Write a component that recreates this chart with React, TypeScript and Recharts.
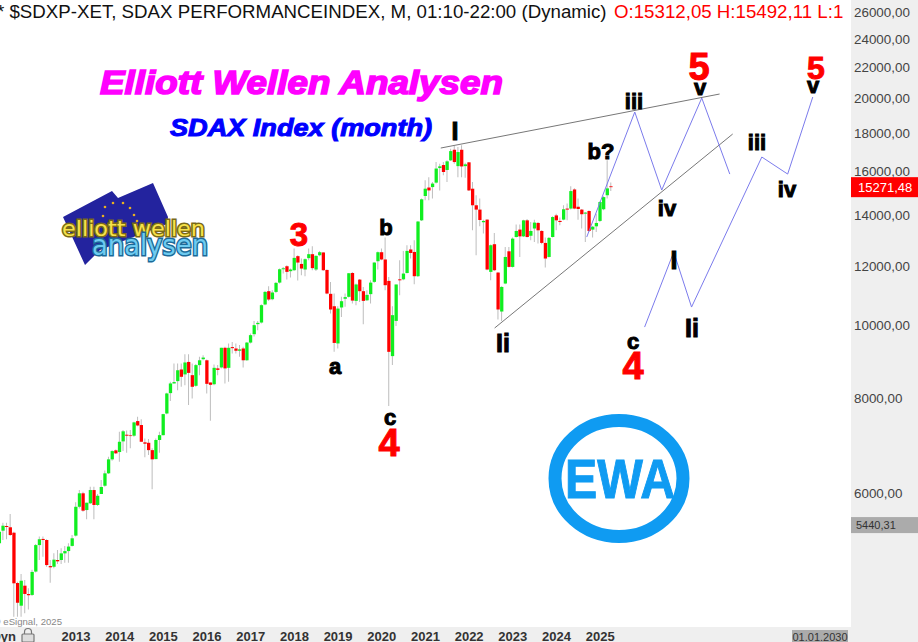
// App.tsx - SDAX monthly candles with Elliott wave projection
import React from 'react';
import { ComposedChart, Bar, Line, XAxis, YAxis, Cell } from 'recharts';

// month index: 0 is Jan 2013, first candle is Apr 2011
const firstMonth = -21;

const opens = [
  5145, 5348, 5425, 5404, 5315, 4558, 4253, 4521, 4408,
  4395, 4720, 5118, 5215, 5198, 4800, 4790, 4890, 4890, 4990, 5025, 5105,
  5268, 5753, 5995, 5696, 5815, 6055, 5785, 5982, 6135, 6372, 6650, 6835,
  6800, 7025, 7170, 7155, 7148, 7475, 7385, 7005, 6995, 6840, 6655, 7055,
  7160, 7650, 8141, 8385, 8445, 8750, 8620, 8955, 8600, 8325, 8868, 9030,
  9000, 8410, 8365, 8780, 8805, 9350, 8795, 9370, 9330, 9265, 9330, 9000,
  9500, 9748, 10050, 10100, 10672, 11115, 10845, 11090, 11410, 11885, 11995, 11815,
  11850, 12370, 12080, 11875, 12295, 12445, 11875, 12405, 12510, 11860, 11025, 10615,
  9475, 10575, 10860, 10925, 11750, 10790, 11515, 11115, 10810, 11015, 11435, 12180,
  12520, 12245, 11470, 9115, 10150, 11525, 11525, 11750, 12625, 12530, 11635, 13800,
  14865, 15255, 15275, 15485, 16190, 16340, 16095, 16575, 17120, 16285, 17120, 16285,
  16475, 15200, 14450, 14260, 13720, 13830, 11790, 12830, 11765, 10445, 11378, 12555,
  11970, 13115, 13415, 13140, 13800, 13165, 13460, 13690, 13360, 12880, 12340, 13115,
  14010, 13775, 13830, 14305, 14305, 15165, 14385, 14260, 14085, 14200, 13415, 13550,
  13775, 14275, 14900, 15312.05,
];
const highs = [
  5442, 5480, 5480, 5628, 5331, 4575, 4685, 4600, 4485,
  4745, 5135, 5254, 5254, 5210, 4890, 4990, 5040, 5068, 5105, 5145, 5278,
  5832, 6055, 6025, 5825, 6118, 6118, 5982, 6243, 6425, 6705, 6840, 6855,
  7235, 7275, 7260, 7275, 7460, 7575, 7515, 7090, 7075, 6880, 7090, 7235,
  7642, 8150, 8427, 8913, 8913, 8913, 9170, 9170, 8913, 8895, 9095, 9140,
  9020, 8410, 8885, 8868, 9350, 9380, 9475, 9520, 9475, 9430, 9380, 9520,
  9768, 10150, 10150, 10682, 11125, 11285, 11150, 11435, 11910, 11970, 12030, 11910,
  12660, 12405, 12280, 12280, 12660, 12750, 12405, 12570, 12530, 11875, 11435, 11035,
  10615, 10925, 11035, 11750, 11790, 11378, 11535, 11260, 11150, 11490, 12155, 12545,
  12660, 13095, 11610, 10615, 11345, 12220, 12570, 12790, 12790, 12985, 13775, 14750,
  15595, 15745, 15515, 16490, 16410, 16490, 16575, 17175, 17320, 17265, 17355, 16460,
  16490, 15515, 14900, 14750, 13830, 13845, 12815, 13275, 11790, 11285, 12725, 12725,
  13095, 13630, 13630, 13830, 13860, 13730, 13830, 13730, 13385, 13095, 13115, 13970,
  14085, 13925, 14450, 14525, 15310, 15225, 14750, 14285, 14155, 14230, 13565, 14085,
  14625, 14850, 16575, 15492.11,
];
const lows = [
  5135, 5198, 5210, 5262, 4113, 4113, 4113, 4155, 4205,
  4382, 4705, 4890, 4940, 4790, 4562, 4768, 4830, 4830, 4850, 4850, 5095,
  5254, 5722, 5668, 5537, 5802, 5537, 5768, 5982, 6118, 6358, 6622, 6760,
  6600, 6820, 6785, 6880, 7125, 7360, 7010, 6695, 6738, 6068, 6650, 6785,
  7155, 7635, 7945, 8385, 8215, 8300, 8340, 7848, 8010, 8300, 8600, 9000,
  8133, 7480, 8340, 8600, 8780, 8385, 8427, 9190, 9190, 9095, 8805, 8985,
  9475, 9675, 9865, 10070, 10650, 10790, 10810, 11055, 11378, 11730, 11515, 11590,
  11825, 11480, 11670, 11635, 12220, 11850, 11825, 12370, 11825, 11015, 10380, 9235,
  9330, 10275, 10595, 10905, 10705, 10650, 10755, 10050, 10790, 10705, 11400, 11875,
  12220, 11150, 7825, 8868, 9990, 10980, 11490, 11730, 12280, 11355, 11610, 13775,
  14675, 14675, 14750, 15440, 15120, 15835, 15515, 16540, 16410, 15745, 15745, 15715,
  15090, 13385, 12405, 13550, 13255, 11850, 11490, 11825, 10190, 10150, 11355, 11945,
  11945, 13095, 12340, 13115, 13095, 12985, 12920, 12855, 12830, 11945, 12315, 13095,
  13385, 13590, 13800, 13800, 14260, 14275, 13830, 13460, 12920, 13320, 13095, 13320,
  13730, 14230, 14750, 15090,
];
const closes = [
  5331, 5430, 5409, 5278, 4554, 4292, 4590, 4408, 4391,
  4715, 5118, 5210, 5198, 4815, 4782, 4895, 4870, 4990, 5025, 5095, 5225,
  5753, 5995, 5685, 5825, 6055, 5785, 5950, 6112, 6372, 6650, 6820, 6773,
  7017, 7245, 7148, 7140, 7445, 7375, 7017, 6975, 6840, 6650, 7055, 7160,
  7635, 8133, 8385, 8420, 8730, 8557, 8940, 8660, 8300, 8868, 9000, 9075,
  8375, 8350, 8795, 8740, 9350, 8780, 9350, 9340, 9265, 9305, 9000, 9500,
  9718, 10020, 10090, 10650, 11090, 10835, 11070, 11400, 11885, 11920, 11790, 11875,
  12305, 12130, 11910, 12255, 12445, 11925, 12380, 12520, 11850, 11035, 10510, 9490,
  10540, 10780, 10915, 11741, 10800, 11345, 11115, 10790, 10990, 11410, 12130, 12520,
  12245, 11320, 9235, 10330, 11345, 11490, 11730, 12570, 12490, 11635, 13750, 14715,
  15200, 15120, 15440, 16165, 16275, 15995, 16525, 17050, 16490, 17000, 16270, 16375,
  15120, 14450, 14260, 13815, 13775, 11875, 12790, 11850, 10510, 11260, 12340, 11970,
  13050, 13360, 13140, 13800, 13115, 13360, 13705, 13385, 12880, 12280, 13080, 13940,
  13800, 13730, 14275, 14260, 15090, 14305, 14285, 14060, 14130, 13360, 13535, 13690,
  14595, 14815, 15215, 15271.48,
];

// drawn wave paths, month index and price
const upperTrend = [{ m: 100.2, v: 17210 }, { m: 176.8, v: 20297 }];
const lowerTrend = [{ m: 115, v: 9932 }, { m: 180.4, v: 17963 }];
const waveNear = [
  { m: 140.3, v: 13114 }, { m: 153.5, v: 19212 }, { m: 160.9, v: 15138 },
  { m: 171.9, v: 20050 }, { m: 179.6, v: 15896 },
];
const waveFar = [
  { m: 156.2, v: 9961 }, { m: 164.2, v: 12526 }, { m: 169.1, v: 10589 },
  { m: 188.4, v: 16744 }, { m: 195.5, v: 15896 }, { m: 202.4, v: 20112 },
];

const priceTicks = [26000, 24000, 22000, 20000, 18000, 16000, 14000, 12000, 10000, 8000, 6000];
const lastPrice = 15271.48;
const anchorPrice = 5440.31;
const yearTicks = [0, 12, 24, 36, 48, 60, 72, 84, 96, 108, 120, 132, 144];
const yearLabels = ['2013', '2014', '2015', '2016', '2017', '2018', '2019', '2020', '2021', '2022', '2023', '2024', '2025'];
const endTick = 204;

const GREEN = '#10ee20';
const RED = '#ff0000';
const WICK = '#bdbdbd';
const BLUE = '#7b7bec';
const FONT = '"Liberation Sans", Arial, sans-serif';

const candles = opens.map((o, i) => ({
  m: firstMonth + i,
  wick: [lows[i], highs[i]],
  body: [Math.min(o, closes[i]), Math.max(o, closes[i])],
  up: closes[i] >= o,
}));

const xDomain: [number, number] = [-20.88, 212.9];

const comma = (v: number) => v.toFixed(2).replace('.', ',');

const PriceTick = ({ y, payload }: any) => {
  const v = payload.value;
  if (v === lastPrice || v === anchorPrice) {
    const isLast = v === lastPrice;
    return (
      <g>
        <rect x={851} y={y - (isLast ? 10 : 8)} width={67} height={isLast ? 20 : 16} fill={isLast ? RED : '#ababab'} />
        <text x={isLast ? 858 : 856} y={y + (isLast ? 4.5 : 4)} fontFamily={FONT} fontSize={isLast ? 13 : 11} fill={isLast ? '#fff' : '#333'}>
          {comma(v)}
        </text>
      </g>
    );
  }
  return (
    <text x={854} y={y + 4.5} fontFamily={FONT} fontSize={13.4} fill="#444">
      {comma(v)}
    </text>
  );
};

const YearTick = ({ x, payload }: any) => {
  if (payload.value === endTick) {
    return (
      <g>
        <rect x={792} y={630} width={56} height={12} fill="#ababab" />
        <text x={820} y={641} textAnchor="middle" fontFamily={FONT} fontSize={11} fill="#333">01.01.2030</text>
      </g>
    );
  }
  return (
    <text x={x} y={641} textAnchor="middle" fontFamily={FONT} fontSize={13} fontWeight="bold" fill="#333">
      {yearLabels[yearTicks.indexOf(payload.value)]}
    </text>
  );
};

// wave counts written on the chart: text, x, baseline y, size, red or black
const waveLabels: [string, number, number, number, boolean][] = [
  ['I', 455, 140, 25, false],
  ['3', 299, 246, 33, true],
  ['b', 386, 235, 22, false],
  ['a', 335, 374, 22, false],
  ['c', 390, 425, 22, false],
  ['4', 389, 456, 38, true],
  ['Ii', 503, 352, 25, false],
  ['b?', 601, 159, 22, false],
  ['iii', 634, 109, 22, false],
  ['v', 700, 95, 22, false],
  ['5', 699, 80, 38, true],
  ['iv', 667, 216, 22, false],
  ['c', 633, 349, 22, false],
  ['4', 633, 379, 38, true],
  ['I', 674, 269, 25, false],
  ['Ii', 692, 337, 25, false],
  ['iii', 757, 150, 22, false],
  ['iv', 787, 197, 22, false],
  ['v', 813, 93, 22, false],
  ['5', 816, 79, 32, true],
];

const Overlay = () => (
  <svg width={918} height={642} style={{ position: 'absolute', left: 0, top: 0, pointerEvents: 'none' }}>
    <defs>
      <clipPath id="plotClip"><rect x={0} y={0} width={851} height={642} /></clipPath>
    </defs>
    <g clipPath="url(#plotClip)" fontFamily={FONT} fontSize={18.7}>
      <text x={-3} y={18} fill="#111">* $SDXP-XET, SDAX PERFORMANCEINDEX, M, 01:10-22:00 (Dynamic)</text>
      <text x={614} y={18} fill={RED}>O:15312,05 H:15492,11 L:1</text>
    </g>

    <text x={100} y={94} textLength={403} lengthAdjust="spacingAndGlyphs" fontFamily={FONT} fontSize={33} fontWeight="bold" fontStyle="italic" fill="#ff00ff" stroke="#ff00ff" strokeWidth={1.6}>
      Elliott Wellen Analysen
    </text>
    <text x={170} y={136} textLength={262} lengthAdjust="spacingAndGlyphs" fontFamily={FONT} fontSize={23} fontWeight="bold" fontStyle="italic" fill="#0000ff" stroke="#0000ff" strokeWidth={1}>
      SDAX Index (month)
    </text>

    {waveLabels.map(([t, x, y, size, red], i) => (
      <text key={i} x={x} y={y} textAnchor="middle" fontFamily={FONT} fontSize={size} fontWeight="bold" fill={red ? RED : '#000'} stroke={red ? RED : '#000'} strokeWidth={1}>
        {t}
      </text>
    ))}

    {/* flag logo */}
    <polygon points="63,217 112,191 118,198 153,183 168,217 167,224 100,250 85,265" fill="#23239e" />
    {[[113, 203], [123, 203], [130, 208], [134, 215], [137, 221], [136, 231], [105, 207], [103, 216]].map(([x, y], i) => (
      <circle key={i} cx={x} cy={y} r={1.3} fill="#e8b020" />
    ))}
    <text x={62} y={236} textLength={143} lengthAdjust="spacingAndGlyphs" fontFamily='"DejaVu Sans", sans-serif' fontSize={21} fill="#f7e24a" stroke="#7a6a18" strokeWidth={3} paintOrder="stroke">elliott wellen</text>
    <text x={92} y={255} textLength={116} lengthAdjust="spacingAndGlyphs" fontFamily='"DejaVu Sans", sans-serif' fontSize={28} fill="#6ecbf0" stroke="#1c6a98" strokeWidth={3} paintOrder="stroke">analysen</text>

    {/* EWA stamp */}
    <ellipse cx={619} cy={478.5} rx={64} ry={58} fill="none" stroke="#0f9bf2" strokeWidth={13} />
    <text x={565} y={498} textLength={110} lengthAdjust="spacingAndGlyphs" fontFamily={FONT} fontSize={55} fontWeight="bold" fill="#0f9bf2" stroke="#0f9bf2" strokeWidth={1}>EWA</text>

    <text x={62} y={625} textAnchor="end" fontFamily={FONT} fontSize={9.6} fill="#888">© eSignal, 2025</text>
    <text x={16} y={641} textAnchor="end" fontFamily={FONT} fontSize={13} fontWeight="bold" fill="#333">Dyn</text>
    <g fill="none" stroke="#777" strokeWidth={1.2}>
      <rect x={22} y={634} width={12} height={8} rx={1} fill="#ddd" />
      <path d="M24.5 634 v-2 a3.5 3.5 0 0 1 7 0 v2" />
    </g>
  </svg>
);

export default function App() {
  return (
    <div style={{ position: 'absolute', left: 0, top: 0, width: 918, height: 642, background: '#efefef', overflow: 'hidden' }}>
      <div style={{ position: 'absolute', left: 0, top: 0, width: 851, height: 627, background: '#fff' }} />
      <ComposedChart width={918} height={642} data={candles} margin={{ top: 0, right: 0, bottom: 0, left: 0 }}>
        <XAxis
          xAxisId="main"
          dataKey="m"
          type="number"
          scale="linear"
          domain={xDomain}
          allowDataOverflow
          ticks={[...yearTicks, endTick]}
          interval={0}
          height={15}
          axisLine={false}
          tickLine={false}
          tick={<YearTick />}
        />
        <XAxis xAxisId="wicks" dataKey="m" type="number" scale="linear" domain={xDomain} allowDataOverflow hide />
        <XAxis xAxisId="paths" dataKey="m" type="number" scale="linear" domain={xDomain} allowDataOverflow hide />
        <YAxis
          orientation="right"
          width={67}
          scale="log"
          domain={[3985, 27050]}
          allowDataOverflow
          ticks={[...priceTicks, anchorPrice, lastPrice]}
          interval={0}
          axisLine={false}
          tickLine={false}
          tick={<PriceTick />}
        />
        <Bar xAxisId="wicks" dataKey="wick" barSize={1} fill={WICK} isAnimationActive={false} />
        <Bar xAxisId="main" dataKey="body" barSize={3.3} isAnimationActive={false}>
          {candles.map((c) => (
            <Cell key={c.m} fill={c.up ? GREEN : RED} />
          ))}
        </Bar>
        <Line xAxisId="paths" data={upperTrend} dataKey="v" stroke="#777" strokeWidth={1} dot={false} activeDot={false} isAnimationActive={false} />
        <Line xAxisId="paths" data={lowerTrend} dataKey="v" stroke="#777" strokeWidth={1} dot={false} activeDot={false} isAnimationActive={false} />
        <Line xAxisId="paths" data={waveNear} dataKey="v" stroke={BLUE} strokeWidth={1} dot={false} activeDot={false} isAnimationActive={false} />
        <Line xAxisId="paths" data={waveFar} dataKey="v" stroke={BLUE} strokeWidth={1} dot={false} activeDot={false} isAnimationActive={false} />
      </ComposedChart>
      <Overlay />
    </div>
  );
}
